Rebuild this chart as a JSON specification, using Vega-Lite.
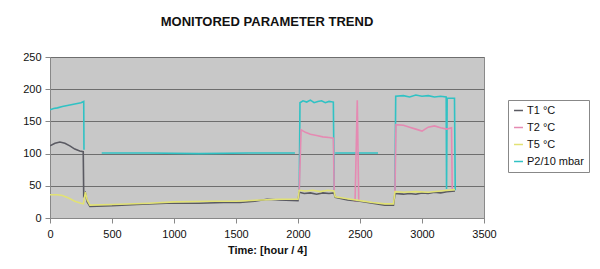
{
  "$schema": "https://vega.github.io/schema/vega-lite/v6.json",
  "width": 434,
  "height": 161,
  "autosize": {"type": "none"},
  "padding": {"left": 50, "top": 57, "right": 116, "bottom": 51},
  "background": "#ffffff",
  "title": {"text": "MONITORED PARAMETER TREND", "fontSize": 13, "fontWeight": "bold", "font": "Liberation Sans", "color": "#111111", "anchor": "middle", "frame": "group", "offset": 22},
  "config": {
    "view": {"fill": "#c8c8c8", "stroke": "#8a8a8a", "strokeWidth": 1},
    "axis": {"labelFont": "Liberation Sans", "labelFontSize": 11, "labelColor": "#111111", "titleFont": "Liberation Sans", "titleColor": "#111111", "domainColor": "#888888", "tickColor": "#888888", "tickSize": 5}
  },
  "data": {"values": [
    {"series": "P2/10 mbar", "t": 0, "v": 168}, {"series": "P2/10 mbar", "t": 30, "v": 170}, {"series": "P2/10 mbar", "t": 60, "v": 171}, {"series": "P2/10 mbar", "t": 100, "v": 173}, {"series": "P2/10 mbar", "t": 150, "v": 175}, {"series": "P2/10 mbar", "t": 200, "v": 177}, {"series": "P2/10 mbar", "t": 250, "v": 179}, {"series": "P2/10 mbar", "t": 272, "v": 181}, {"series": "P2/10 mbar", "t": 274, "v": 106}, {"series": "P2/10 mbar", "t": 300, "v": null},
    {"series": "P2/10 mbar", "t": 417, "v": 101}, {"series": "P2/10 mbar", "t": 800, "v": 101}, {"series": "P2/10 mbar", "t": 1200, "v": 100}, {"series": "P2/10 mbar", "t": 1600, "v": 101}, {"series": "P2/10 mbar", "t": 1975, "v": 101}, {"series": "P2/10 mbar", "t": 1990, "v": null},
    {"series": "P2/10 mbar", "t": 2010, "v": 43}, {"series": "P2/10 mbar", "t": 2016, "v": 179}, {"series": "P2/10 mbar", "t": 2040, "v": 182}, {"series": "P2/10 mbar", "t": 2070, "v": 180}, {"series": "P2/10 mbar", "t": 2100, "v": 183}, {"series": "P2/10 mbar", "t": 2130, "v": 179}, {"series": "P2/10 mbar", "t": 2160, "v": 181}, {"series": "P2/10 mbar", "t": 2190, "v": 182}, {"series": "P2/10 mbar", "t": 2220, "v": 179}, {"series": "P2/10 mbar", "t": 2250, "v": 181}, {"series": "P2/10 mbar", "t": 2285, "v": 180}, {"series": "P2/10 mbar", "t": 2292, "v": 43}, {"series": "P2/10 mbar", "t": 2296, "v": null},
    {"series": "P2/10 mbar", "t": 2300, "v": 101}, {"series": "P2/10 mbar", "t": 2645, "v": 101}, {"series": "P2/10 mbar", "t": 2700, "v": null},
    {"series": "P2/10 mbar", "t": 2782, "v": 43}, {"series": "P2/10 mbar", "t": 2788, "v": 189}, {"series": "P2/10 mbar", "t": 2850, "v": 190}, {"series": "P2/10 mbar", "t": 2900, "v": 188}, {"series": "P2/10 mbar", "t": 2950, "v": 191}, {"series": "P2/10 mbar", "t": 3000, "v": 189}, {"series": "P2/10 mbar", "t": 3050, "v": 190}, {"series": "P2/10 mbar", "t": 3100, "v": 188}, {"series": "P2/10 mbar", "t": 3150, "v": 189}, {"series": "P2/10 mbar", "t": 3195, "v": 188}, {"series": "P2/10 mbar", "t": 3198, "v": 45}, {"series": "P2/10 mbar", "t": 3203, "v": 186}, {"series": "P2/10 mbar", "t": 3262, "v": 186}, {"series": "P2/10 mbar", "t": 3268, "v": 43},

    {"series": "T2 °C", "t": 2010, "v": 43}, {"series": "T2 °C", "t": 2025, "v": 137}, {"series": "T2 °C", "t": 2060, "v": 133}, {"series": "T2 °C", "t": 2100, "v": 130}, {"series": "T2 °C", "t": 2150, "v": 128}, {"series": "T2 °C", "t": 2200, "v": 126}, {"series": "T2 °C", "t": 2250, "v": 125}, {"series": "T2 °C", "t": 2285, "v": 124}, {"series": "T2 °C", "t": 2292, "v": 43}, {"series": "T2 °C", "t": 2296, "v": null},
    {"series": "T2 °C", "t": 2460, "v": 25}, {"series": "T2 °C", "t": 2478, "v": 183}, {"series": "T2 °C", "t": 2490, "v": 25}, {"series": "T2 °C", "t": 2500, "v": null},
    {"series": "T2 °C", "t": 2782, "v": 40}, {"series": "T2 °C", "t": 2790, "v": 145}, {"series": "T2 °C", "t": 2850, "v": 144}, {"series": "T2 °C", "t": 2900, "v": 141}, {"series": "T2 °C", "t": 2950, "v": 138}, {"series": "T2 °C", "t": 3000, "v": 135}, {"series": "T2 °C", "t": 3050, "v": 141}, {"series": "T2 °C", "t": 3100, "v": 143}, {"series": "T2 °C", "t": 3150, "v": 140}, {"series": "T2 °C", "t": 3200, "v": 138}, {"series": "T2 °C", "t": 3238, "v": 140}, {"series": "T2 °C", "t": 3244, "v": 45},

    {"series": "T1 °C", "t": 0, "v": 112}, {"series": "T1 °C", "t": 40, "v": 116}, {"series": "T1 °C", "t": 80, "v": 118}, {"series": "T1 °C", "t": 120, "v": 116}, {"series": "T1 °C", "t": 160, "v": 112}, {"series": "T1 °C", "t": 200, "v": 107}, {"series": "T1 °C", "t": 240, "v": 104}, {"series": "T1 °C", "t": 268, "v": 103}, {"series": "T1 °C", "t": 272, "v": 35}, {"series": "T1 °C", "t": 285, "v": 39}, {"series": "T1 °C", "t": 300, "v": 25}, {"series": "T1 °C", "t": 322, "v": 18}, {"series": "T1 °C", "t": 500, "v": 19}, {"series": "T1 °C", "t": 700, "v": 21}, {"series": "T1 °C", "t": 940, "v": 23}, {"series": "T1 °C", "t": 1200, "v": 23}, {"series": "T1 °C", "t": 1400, "v": 24}, {"series": "T1 °C", "t": 1532, "v": 24}, {"series": "T1 °C", "t": 1650, "v": 26}, {"series": "T1 °C", "t": 1750, "v": 29}, {"series": "T1 °C", "t": 1850, "v": 28}, {"series": "T1 °C", "t": 2000, "v": 27}, {"series": "T1 °C", "t": 2010, "v": 40}, {"series": "T1 °C", "t": 2050, "v": 38}, {"series": "T1 °C", "t": 2100, "v": 39}, {"series": "T1 °C", "t": 2150, "v": 37}, {"series": "T1 °C", "t": 2200, "v": 39}, {"series": "T1 °C", "t": 2250, "v": 38}, {"series": "T1 °C", "t": 2290, "v": 39}, {"series": "T1 °C", "t": 2300, "v": 32}, {"series": "T1 °C", "t": 2400, "v": 28}, {"series": "T1 °C", "t": 2500, "v": 26}, {"series": "T1 °C", "t": 2600, "v": 23}, {"series": "T1 °C", "t": 2700, "v": 20}, {"series": "T1 °C", "t": 2770, "v": 20}, {"series": "T1 °C", "t": 2782, "v": 38}, {"series": "T1 °C", "t": 2850, "v": 37}, {"series": "T1 °C", "t": 2900, "v": 38}, {"series": "T1 °C", "t": 2950, "v": 37}, {"series": "T1 °C", "t": 3000, "v": 39}, {"series": "T1 °C", "t": 3050, "v": 38}, {"series": "T1 °C", "t": 3100, "v": 40}, {"series": "T1 °C", "t": 3150, "v": 39}, {"series": "T1 °C", "t": 3200, "v": 41}, {"series": "T1 °C", "t": 3266, "v": 42},

    {"series": "T5 °C", "t": 0, "v": 36}, {"series": "T5 °C", "t": 60, "v": 36}, {"series": "T5 °C", "t": 100, "v": 35}, {"series": "T5 °C", "t": 150, "v": 31}, {"series": "T5 °C", "t": 200, "v": 26}, {"series": "T5 °C", "t": 250, "v": 23}, {"series": "T5 °C", "t": 270, "v": 22}, {"series": "T5 °C", "t": 285, "v": 40}, {"series": "T5 °C", "t": 300, "v": 28}, {"series": "T5 °C", "t": 322, "v": 20}, {"series": "T5 °C", "t": 500, "v": 21}, {"series": "T5 °C", "t": 800, "v": 23}, {"series": "T5 °C", "t": 1000, "v": 25}, {"series": "T5 °C", "t": 1300, "v": 26}, {"series": "T5 °C", "t": 1500, "v": 26}, {"series": "T5 °C", "t": 1700, "v": 28}, {"series": "T5 °C", "t": 1850, "v": 29}, {"series": "T5 °C", "t": 2000, "v": 29}, {"series": "T5 °C", "t": 2010, "v": 43}, {"series": "T5 °C", "t": 2060, "v": 42}, {"series": "T5 °C", "t": 2120, "v": 43}, {"series": "T5 °C", "t": 2180, "v": 41}, {"series": "T5 °C", "t": 2240, "v": 43}, {"series": "T5 °C", "t": 2290, "v": 42}, {"series": "T5 °C", "t": 2300, "v": 33}, {"series": "T5 °C", "t": 2400, "v": 30}, {"series": "T5 °C", "t": 2500, "v": 27}, {"series": "T5 °C", "t": 2600, "v": 24}, {"series": "T5 °C", "t": 2700, "v": 22}, {"series": "T5 °C", "t": 2770, "v": 22}, {"series": "T5 °C", "t": 2782, "v": 41}, {"series": "T5 °C", "t": 2850, "v": 40}, {"series": "T5 °C", "t": 2950, "v": 41}, {"series": "T5 °C", "t": 3050, "v": 40}, {"series": "T5 °C", "t": 3150, "v": 42}, {"series": "T5 °C", "t": 3266, "v": 44}
  ]},
  "mark": {"type": "line", "strokeWidth": 1.6, "invalid": "break-paths-show-domains", "clip": true},
  "encoding": {
    "x": {"field": "t", "type": "quantitative", "scale": {"domain": [0, 3500], "nice": false}, "axis": {"values": [0, 500, 1000, 1500, 2000, 2500, 3000, 3500], "format": "d", "grid": false, "title": "Time: [hour / 4]", "titleFontSize": 11, "titleFontWeight": "bold", "titlePadding": 5, "labelPadding": 5, "labelFlush": false}},
    "y": {"field": "v", "type": "quantitative", "scale": {"domain": [0, 250], "nice": false}, "axis": {"values": [0, 50, 100, 150, 200, 250], "format": "d", "grid": true, "gridColor": "#6e6e6e", "gridWidth": 1, "title": null, "labelPadding": 4}},
    "color": {"field": "series", "type": "nominal", "scale": {"domain": ["T1 °C", "T2 °C", "T5 °C", "P2/10 mbar"], "range": ["#5a5a62", "#e58ab2", "#e2e274", "#30c2c4"]}, "legend": {"title": null, "orient": "none", "legendX": 458, "legendY": 43, "symbolType": "stroke", "symbolSize": 80, "symbolStrokeWidth": 1.5, "labelFont": "Liberation Sans", "labelFontSize": 11, "labelColor": "#111111", "strokeColor": "#888888", "fillColor": "#ffffff", "padding": 5, "rowPadding": 5, "labelOffset": 3}},
    "strokeWidth": {"condition": {"test": "datum.series === 'P2/10 mbar'", "value": 2.6}, "value": 1.5}
  }
}
